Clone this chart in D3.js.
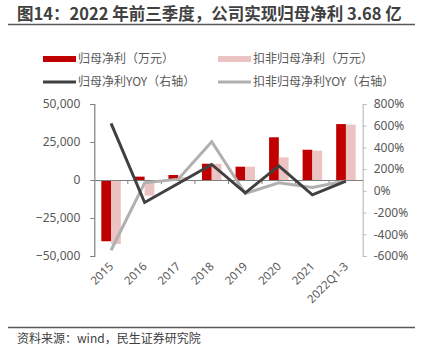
<!DOCTYPE html>
<html>
<head>
<meta charset="utf-8">
<script src="https://cdn.jsdelivr.net/npm/d3@7"></script>
<style>
  body { margin: 0; background: #fff; }
  svg { font-family: "Noto Sans CJK SC", "Noto Sans", sans-serif; }
</style>
</head>
<body>
<div id="chart"></div>
<script>
const svgWidth = 435
const svgHeight = 363

// data (万元 / %)
const categories = ["2015", "2016", "2017", "2018", "2019", "2020", "2021", "2022Q1-3"]
const netProfit = [-40300, 2200, 3300, 10700, 8750, 28100, 19900, 36800]
const deductedProfit = [-42100, -10300, 2000, 10700, 8750, 14900, 19300, 36400]
const netProfitYoy = [621, -107, 68, 243, -18, 230, -37, 89]
const deductedYoy = [-547, 74, 108, 452, -24, 74, 31, 92]
const leftTicks = [-50000, -25000, 0, 25000, 50000]
const rightTicks = [-600, -400, -200, 0, 200, 400, 600, 800]

let plot = { left: 94.3, right: 362.7, top: 104, bottom: 256 }

let svg = d3.select("#chart")
  .append("svg")
  .attr("width", svgWidth)
  .attr("height", svgHeight)

// title + rules
svg.append("text")
  .attr("x", 17).attr("y", 20)
  .attr("font-size", 16.5).attr("font-weight", "bold")
  .attr("fill", "#404040")
  .text("图14：2022 年前三季度，公司实现归母净利 3.68 亿")
svg.append("line")
  .attr("x1", 8).attr("x2", 415).attr("y1", 24.5).attr("y2", 24.5)
  .attr("stroke", "#595959").attr("stroke-width", 1.5)
svg.append("line")
  .attr("x1", 8).attr("x2", 415).attr("y1", 327.5).attr("y2", 327.5)
  .attr("stroke", "#595959").attr("stroke-width", 1.5)
svg.append("text")
  .attr("x", 17).attr("y", 343)
  .attr("font-size", 12).attr("fill", "#404040")
  .text("资料来源：wind，民生证券研究院")

// scales
let x = d3.scaleBand().domain(categories).range([plot.left, plot.right])
let xSub = d3.scaleBand().domain(["np", "dp"]).range([0, x.bandwidth()]).paddingOuter(0.72)
let yLeft = d3.scaleLinear().domain([-50000, 50000]).range([plot.bottom, plot.top])
let yRight = d3.scaleLinear().domain([-600, 800]).range([plot.bottom, plot.top])

// axes
let leftAxis = svg.append("g")
  .attr("transform", `translate(${plot.left}, 0)`)
  .call(d3.axisLeft(yLeft).tickValues(leftTicks).tickSize(4).tickPadding(10)
    .tickFormat(d3.format(",")))
leftAxis.select(".domain").attr("stroke", "#7f7f7f").attr("stroke-width", 1.2)
leftAxis.selectAll(".tick line").attr("stroke", "#7f7f7f")
leftAxis.selectAll("text").attr("fill", "#595959").attr("font-size", 12)
  .attr("font-family", "'Noto Sans', sans-serif")

let rightAxis = svg.append("g")
  .attr("transform", `translate(${plot.right}, 0)`)
  .call(d3.axisRight(yRight).tickValues(rightTicks).tickSize(4).tickPadding(7)
    .tickFormat(d => d + "%"))
rightAxis.select(".domain").attr("stroke", "#bfbfbf").attr("stroke-width", 1.2)
rightAxis.selectAll(".tick line").attr("stroke", "#bfbfbf")
rightAxis.selectAll("text").attr("fill", "#595959").attr("font-size", 12)
  .attr("font-family", "'Noto Sans', sans-serif")

// bars
let bars = svg.append("g")
categories.forEach((c, i) => {
  let vals = [["np", netProfit[i], "#c00000"], ["dp", deductedProfit[i], "#ebc3c3"]]
  vals.forEach(([k, v, col]) => {
    bars.append("rect")
      .attr("x", x(c) + xSub(k))
      .attr("width", xSub.bandwidth())
      .attr("y", Math.min(yLeft(v), yLeft(0)))
      .attr("height", Math.abs(yLeft(v) - yLeft(0)))
      .attr("fill", col)
  })
})

// zero line with category ticks
let xAxis = svg.append("g")
  .attr("transform", `translate(0, ${yLeft(0)})`)
  .call(d3.axisBottom(x).tickSize(0).tickFormat(""))
xAxis.select(".domain").attr("stroke", "#7f7f7f").attr("stroke-width", 1.2)
categories.slice(1).forEach(c => {
  xAxis.append("line")
    .attr("x1", x(c)).attr("x2", x(c)).attr("y1", 0).attr("y2", 4)
    .attr("stroke", "#7f7f7f")
})

// category labels
svg.append("g").selectAll("text")
  .data(categories)
  .enter()
  .append("text")
  .attr("transform", d => `translate(${x(d) + x.bandwidth() / 2 + 3}, 267) rotate(-45)`)
  .attr("text-anchor", "end")
  .attr("font-size", 11.5)
  .attr("font-family", "'Noto Sans', sans-serif")
  .attr("fill", "#595959")
  .text(d => d)

// yoy lines
let line = d3.line()
  .x((d, i) => x(categories[i]) + x.bandwidth() / 2)
  .y(d => yRight(d))
svg.append("path").datum(deductedYoy)
  .attr("d", line).attr("fill", "none")
  .attr("stroke", "#b0b0b0").attr("stroke-width", 3)
svg.append("path").datum(netProfitYoy)
  .attr("d", line).attr("fill", "none")
  .attr("stroke", "#404040").attr("stroke-width", 3)

// legend
let legend = [
  { label: "归母净利（万元）", x: 43, y: 59, type: "rect", color: "#c00000" },
  { label: "扣非归母净利（万元）", x: 218, y: 59, type: "rect", color: "#ebc3c3" },
  { label: "归母净利YOY（右轴）", x: 43, y: 82, type: "line", color: "#404040" },
  { label: "扣非归母净利YOY（右轴）", x: 218, y: 82, type: "line", color: "#b0b0b0" }
]
legend.forEach(l => {
  if (l.type === "rect") {
    svg.append("rect").attr("x", l.x).attr("y", l.y - 3).attr("width", 33).attr("height", 6)
      .attr("fill", l.color)
  } else {
    svg.append("line").attr("x1", l.x).attr("x2", l.x + 33).attr("y1", l.y).attr("y2", l.y)
      .attr("stroke", l.color).attr("stroke-width", 3)
  }
  svg.append("text")
    .attr("x", l.x + 35).attr("y", l.y + 4)
    .attr("font-size", 12).attr("fill", "#595959")
    .text(l.label)
})
</script>
</body>
</html>
